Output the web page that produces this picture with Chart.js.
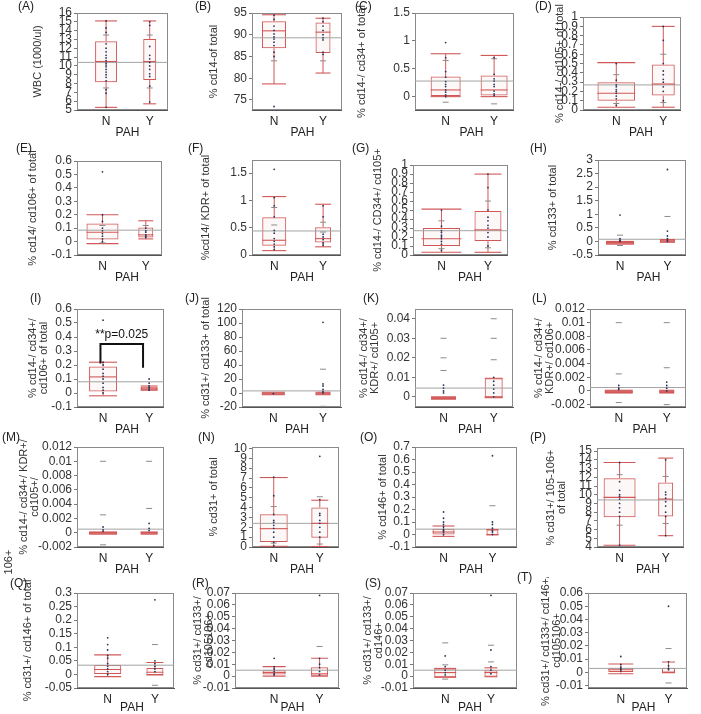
<!DOCTYPE html>
<html>
<head>
<meta charset="utf-8">
<script src="https://cdn.jsdelivr.net/npm/chart.js@4.4.0/dist/chart.umd.min.js"></script>
<style>
  body { margin:0; background:#fff; width:701px; height:714px; position:relative; overflow:hidden;
         font-family:"Liberation Sans", Arial, sans-serif; }
  canvas { position:absolute; }
  .lbl { position:absolute; font-size:12px; line-height:12px; color:#222; white-space:nowrap; }
</style>
</head>
<body>
<script>
// ---- data ----
const groups = ["N", "Y"];
const xTitle = "PAH";
const panels = ["A","B","C","D","E","F","G","H","I","J","K","L","M","N","O","P","Q","R","S","T"];
const yTitles = [
  ["WBC (1000/ul)"], ["% cd14-of total"], ["% cd14-/ cd34+ of total"], ["% cd14-/ cd105+ of total"],
  ["% cd14/ cd106+ of total"], ["%cd14/ KDR+ of total"], ["% cd14-/ CD34+/ cd105+"], ["% cd133+ of total"],
  ["% cd14-/ cd34+/", "cd106+ of total"], ["% cd31+/ cd133+ of total"], ["% cd14-/ cd34+/", "KDR+/ cd105+"], ["% cd14-/ cd34+/", "KDR+/ cd106+"],
  ["% cd14-/ cd34+/ KDR+/", "cd105+/"], ["% cd31+ of total"], ["% cd146+ of total"], ["% cd31+/ 105-106+", "of total"],
  ["% cd31+/ cd146+ of total"], ["% cd31+/ cd133+/", "cd105106+"], ["% cd31+/ cd133+/", "cd146+"], ["% cd31+/ cd133+/ cd146+/", "cd105106+"]
];
const yMin  = [5, 72.7, -0.24, 0, -0.1, 0, 0, -0.5, -0.1, -20, -0.0052, -0.00235, -0.002, 0, -0.1, 4, -0.05, -0.01, -0.01, -0.0118];
const yMax  = [16, 95, 1.5, 1, 0.6, 1.74, 1, 3, 0.6, 120, 0.045, 0.012, 0.012, 10.15, 0.7, 15.35, 0.3, 0.07, 0.07, 0.06];
const yStep = [1, 5, 0.5, 0.1, 0.1, 0.5, 0.1, 0.5, 0.1, 20, 0.01, 0.002, 0.002, 1, 0.1, 1, 0.05, 0.01, 0.01, 0.01];

// box stats: [low whisker, q1, median, q3, high whisker]
const boxN = [
  [5.3, 8.15, 10.5, 12.8, 15.1], [78.7, 86.9, 90.9, 93.1, 94.6], [0, 0.01, 0.12, 0.36, 0.77], [0.03, 0.1, 0.18, 0.3, 0.51],
  [-0.015, 0.016, 0.07, 0.135, 0.2], [0.08, 0.17, 0.27, 0.69, 1.07], [0.03, 0.1, 0.18, 0.3, 0.51], [-0.1, -0.1, -0.03, 0, 0],
  [-0.02, 0.01, 0.115, 0.19, 0.22], [-2.5, -2.5, -1, 1, 1], [-0.0012, -0.0012, -0.0005, 0, 0], [-0.0003, -0.0003, -0.0001, 0.0001, 0.0001],
  [-0.0002, -0.0002, 0, 0.0001, 0.0001], [0.07, 0.5, 1.86, 3.32, 7.05], [-0.015, 0, 0.02, 0.047, 0.068], [4.2, 7.4, 9.7, 11.9, 13.7],
  [-0.008, 0.002, 0.018, 0.035, 0.072], [0, 0.0013, 0.003, 0.005, 0.008], [-0.001, -0.001, 0.003, 0.0065, 0.0065], [-0.001, 0, 0.002, 0.0035, 0.0063]
];
const boxY = [
  [5.7, 8.4, 10.5, 13.05, 15.1], [81.2, 85.8, 90.6, 92.8, 93.8], [0, 0.02, 0.12, 0.38, 0.74], [0.03, 0.155, 0.28, 0.49, 0.9],
  [0.02, 0.03, 0.05, 0.105, 0.155], [0.15, 0.23, 0.3, 0.51, 0.93], [0.03, 0.155, 0.28, 0.49, 0.9], [-0.03, -0.03, 0.02, 0.07, 0.07],
  [0.02, 0.02, 0.03, 0.045, 0.05], [-2.5, -2.5, -1, 1, 1], [-0.0005, -0.0005, 0, 0.0095, 0.0095], [-0.0003, -0.0003, -0.0001, 0.0001, 0.0001],
  [-0.0002, -0.0002, 0, 0.0001, 0.0001], [0.05, 0.95, 2.4, 4.0, 4.75], [-0.003, -0.003, 0, 0.04, 0.04], [5.3, 7.5, 9.5, 11.4, 14.2],
  [-0.002, -0.002, 0.008, 0.024, 0.044], [0, 0, 0.002, 0.0075, 0.015], [-0.0005, -0.0005, 0.003, 0.005, 0.007], [-0.0002, -0.0002, 0, 0.0035, 0.0078]
];
const means = [10.4, 89.3, 0.28, 0.27, 0.085, 0.44, 0.27, 0.08, 0.08, 3, 0.0045, 0.0005, 0.0005, 2.4, 0.043, 9.4, 0.034, 0.005, 0.005, 0.003];

// individual observations (dots) and the short grey dash marks
const dotsN = [
  [15.1, 14.3, 13.8, 12.5, 12, 11.6, 11.2, 10.9, 10.6, 10.3, 10.1, 9.9, 9.6, 9.3, 9, 8.7, 8.3, 7.3, 6.9, 5.3],
  [94.5, 93.5, 92, 91, 90.2, 89.5, 89, 88.3, 87.5, 86, 85, 73.5],
  [0.97, 0.7, 0.45, 0.35, 0.27, 0.22, 0.18, 0.12, 0.08, 0.03, 0],
  [0.5, 0.32, 0.27, 0.25, 0.22, 0.2, 0.18, 0.15, 0.12, 0.05],
  [0.52, 0.2, 0.15, 0.1, 0.08, 0.06, 0.04, 0.02, 0],
  [1.57, 1.05, 0.9, 0.7, 0.45, 0.4, 0.3, 0.25, 0.2, 0.15, 0.1],
  [0.5, 0.32, 0.27, 0.25, 0.22, 0.2, 0.18, 0.15, 0.12, 0.05],
  [0.97, 0.1, 0.05, 0.02, 0],
  [0.52, 0.22, 0.2, 0.17, 0.14, 0.12, 0.1, 0.07, 0.04, 0.02, 0],
  [-1],
  [0.006, 0.0045, 0.003, 0.002],
  [0.0008, 0.0004, 0.0002],
  [0.0008, 0.0004, 0.0002],
  [7.1, 5.2, 3.3, 2.7, 2.5, 2.2, 1.9, 1.5, 1.0, 0.5, 0.1],
  [0.18, 0.13, 0.1, 0.08, 0.06, 0.04, 0.03, 0.02, 0],
  [13.7, 11.5, 10.5, 10, 9.8, 9.5, 9, 8.5, 8, 7.5, 4.2],
  [0.135, 0.11, 0.09, 0.07, 0.06, 0.04, 0.03, 0.02, 0.01, 0],
  [0.015, 0.008, 0.006, 0.004, 0.002, 0.001],
  [0.017, 0.008, 0.005, 0.003, 0.001],
  [0.012, 0.006, 0.004, 0.003, 0.002, 0.001]
];
const dotsY = [
  [15, 14.6, 12.2, 11.2, 10.8, 10.4, 10, 9.6, 9.1, 8.8, 7.7, 5.9],
  [93.8, 93, 92, 91, 90, 89.3, 88.8, 86, 85.5],
  [0.7, 0.4, 0.32, 0.28, 0.22, 0.18, 0.1, 0.05, 0.02],
  [0.9, 0.75, 0.5, 0.42, 0.38, 0.33, 0.3, 0.25, 0.2, 0.1],
  [0.1, 0.08, 0.07, 0.05, 0.04, 0.03],
  [0.9, 0.7, 0.38, 0.33, 0.28, 0.22, 0.18],
  [0.9, 0.75, 0.5, 0.42, 0.38, 0.33, 0.3, 0.25, 0.2, 0.1],
  [2.65, 0.38, 0.2, 0.1, 0.05, 0],
  [0.1, 0.07, 0.05, 0.04, 0.03, 0.02],
  [101, 13, 10, 5, 2, 0],
  [0.01, 0.008, 0.006, 0.004, 0.002, 0],
  [0.0013, 0.0008, 0.0004, 0],
  [0.0013, 0.0006, 0.0003],
  [9.2, 4.8, 3.4, 3.2, 2.7, 2.4, 2.0, 1.5, 1.0],
  [0.63, 0.1, 0.08, 0.05, 0.03, 0.02, 0],
  [14, 10.3, 10, 9.6, 9.2, 8.7, 8, 7.5, 5.3],
  [0.275, 0.05, 0.04, 0.03, 0.02, 0.01],
  [0.068, 0.015, 0.01, 0.007, 0.004, 0.001],
  [0.068, 0.022, 0.008, 0.005, 0.002],
  [0.05, 0.008, 0.005, 0.003, 0.002]
];
const dashN = [
  [13.5, 7.5], [84], [0.65, -0.1], [0.38, 0.07], [0.12, -0.01], [0.87, 0.55], [0.38, 0.07], [0.23, -0.15],
  [], [], [0.03, 0.02, 0.0135, -0.005], [0.01, 0.0025, -0.0017], [0.01, 0.0025, -0.0017], [4.1, 0.4], [], [12.3, 6.5],
  [], [], [0.028, 0.0095, -0.0025], []
];
const dashY = [
  [13.5, 7.5], [84], [0.68, -0.13], [0.6, 0.08], [0.12], [0.6, 0.42], [0.6, 0.08], [0.92, -0.5],
  [], [34, -19], [0.04, 0.03, 0.019, -0.005], [0.01, 0.0034, -0.002], [0.01, 0.0034, -0.002], [5.1, 0.3], [0.23, -0.1], [12.1, 6.7],
  [0.11, -0.04], [0.025, -0.01], [0.026, 0.012, -0.01], [0.018, -0.008]
];
// significance bracket in panel I: left foot, top, right foot
const bracketI = [0.21, 0.35, 0.18];
const pText = "**p=0.025";
const pTextY = 0.42;

// ---- layout (page pixels) ----
const rowTop = [13, 160, 308.5, 447, 592.5];
const rowBot = [110, 255, 406.5, 547, 687.5];
const plotL = [77, 252, 415, 583, 77, 252, 413, 598, 77, 242, 415, 590, 77, 252, 415, 597, 77, 235, 413, 588];
const plotR = [178, 353, 528, 699, 177, 352, 527, 699, 177, 352, 525, 699, 177, 352, 527, 699, 187, 350, 527, 699];
const titleX = [37, 213, 361, 559, 32, 205, 377, 552, 32, 205, 363, 538, 23, 213, 382, 550, 27, 197, 367, 545];
const labelXY = [[18,6],[195,6],[355,6],[535,6],[16,148],[188,148],[352,148],[530,148],
                 [30,298],[185,298],[363,298],[532,298],[2,437],[198,437],[360,437],[530,437],
                 [10,583],[192,583],[365,583],[517,577]];
const xPos = [[.32,.8],[.245,.79],[.31,.8],[.34,.82],[.3,.81],[.25,.8],[.3,.79],[.25,.79],
              [.3,.83],[.315,.815],[.29,.8],[.3,.8],[.3,.83],[.25,.78],[.28,.76],[.26,.79],
              [.315,.8],[.375,.81],[.31,.75],[.33,.81]];
const boxW = [[22,13],[24,15],[30,27],[38,23],[32,15],[24,16],[40,27],[28,15],
              [28,17],[23,15],[25,18],[28,15],[28,17],[28,17],[22,12],[32,15],
              [27,17],[23,17],[22,13],[25,13]];
const PAD_TOP = 16;

Chart.defaults.font.family = "'Liberation Sans', Arial, sans-serif";
Chart.defaults.color = "#222";

const RED = "#d25858";
const fmt = v => String(+(+v).toFixed(6));

const framePlugin = {
  id: "frame",
  beforeDatasetsDraw(c) {
    const a = c.chartArea, ctx = c.ctx;
    ctx.save();
    ctx.strokeStyle = "#8a8a8a";
    ctx.lineWidth = 1;
    ctx.strokeRect(Math.round(a.left) + 0.5, Math.round(a.top) + 0.5,
                   Math.round(a.right - a.left) - 1, Math.round(a.bottom - a.top) - 1);
    ctx.restore();
  }
};
const notePlugin = {
  id: "note",
  afterDatasetsDraw(c, args, o) {
    if (!o || !o.text) return;
    const ctx = c.ctx;
    ctx.save();
    ctx.font = "12px 'Liberation Sans', Arial, sans-serif";
    ctx.fillStyle = "#111";
    ctx.textAlign = "center";
    ctx.textBaseline = "middle";
    ctx.fillText(o.text, c.scales.x.getPixelForValue(o.x), c.scales.y.getPixelForValue(o.y));
    ctx.restore();
  }
};

function addLabel(text, x, y) {
  const d = document.createElement("div");
  d.className = "lbl";
  d.textContent = text;
  d.style.left = x + "px";
  d.style.top = (y - 6) + "px";
  document.body.appendChild(d);
  return d;
}

panels.forEach((id, i) => {
  const row = Math.floor(i / 4);
  const cl = Math.round(titleX[i] - 5.5);
  const ct = Math.round(rowTop[row] - PAD_TOP);
  const cw = Math.round(plotR[i] + 2 - cl);
  const ch = Math.round(rowBot[row] + 30 - ct);
  const yW = plotL[i] - cl;

  const cv = document.createElement("canvas");
  cv.width = cw; cv.height = ch;
  cv.style.left = cl + "px"; cv.style.top = ct + "px";
  document.body.appendChild(cv);
  addLabel("(" + id + ")", labelXY[i][0], labelXY[i][1]);
  const xt = addLabel(xTitle, (plotL[i] + plotR[i]) / 2, Math.min(rowBot[row] + 22, 707));
  xt.style.transform = "translateX(-50%)";

  const [xn, xy] = xPos[i];
  const [wn, wy] = boxW[i];
  const bn = boxN[i], by = boxY[i];

  const dots = dotsN[i].map(v => ({ x: xn, y: v })).concat(dotsY[i].map(v => ({ x: xy, y: v })));
  const dashes = dashN[i].map(v => ({ x: xn, y: v })).concat(dashY[i].map(v => ({ x: xy, y: v })));
  const caps = [bn[0], bn[4], bn[2]].map(v => ({ x: xn, y: v }))
    .concat([by[0], by[4], by[2]].map(v => ({ x: xy, y: v })));
  const capR = [wn / 2, wn / 2, wn / 2, wy / 2, wy / 2, wy / 2];
  const whisk = [
    { x: xn, y: bn[0] }, { x: xn, y: bn[1] }, { x: xn, y: null }, { x: xn, y: bn[3] }, { x: xn, y: bn[4] },
    { x: xy, y: null },
    { x: xy, y: by[0] }, { x: xy, y: by[1] }, { x: xy, y: null }, { x: xy, y: by[3] }, { x: xy, y: by[4] }
  ];

  const datasets = [
    { type: "scatter", data: dots, pointRadius: 0.9, pointBackgroundColor: "#2a3558",
      pointBorderWidth: 0, order: 0 },
    { type: "scatter", data: dashes, pointStyle: "line", pointRadius: 3, pointBorderColor: "#8a8a8a",
      pointBorderWidth: 1, order: 1 },
    { type: "scatter", data: caps, pointStyle: "line", pointRadius: capR, pointBorderColor: RED,
      pointBorderWidth: 1.1, order: 2 },
    { type: "line", data: [{ x: 0, y: means[i] }, { x: 1, y: means[i] }], borderColor: "#a3a3a3",
      borderWidth: 1, pointRadius: 0, order: 3 },
    { type: "bar", data: [{ x: xn, y: [bn[1], bn[3]] }], maxBarThickness: wn, barPercentage: 1,
      grouped: false, borderSkipped: false, borderColor: RED, borderWidth: 1,
      backgroundColor: "rgba(225,120,120,0.05)", order: 4 },
    { type: "bar", data: [{ x: xy, y: [by[1], by[3]] }], maxBarThickness: wy, barPercentage: 1,
      grouped: false, borderSkipped: false, borderColor: RED, borderWidth: 1,
      backgroundColor: "rgba(225,120,120,0.05)", order: 4 },
    { type: "line", data: whisk, borderColor: RED, borderWidth: 1, pointRadius: 0, spanGaps: false, order: 5 }
  ];

  let note = {};
  if (id === "I") {
    const bl = xn - 0.03, br = xy - 0.07;
    datasets.push({ type: "line", data: [{ x: bl, y: bracketI[0] }, { x: bl, y: bracketI[1] },
      { x: br, y: bracketI[1] }, { x: br, y: bracketI[2] }], borderColor: "#111", borderWidth: 2,
      pointRadius: 0, order: 0 });
    note = { text: pText, x: (bl + br) / 2, y: pTextY };
  }

  new Chart(cv, {
    type: "bar",
    data: { datasets },
    plugins: [framePlugin, notePlugin],
    options: {
      responsive: false,
      animation: false,
      events: [],
      layout: { padding: { top: PAD_TOP, right: 2, left: 0, bottom: 0 } },
      plugins: { legend: { display: false }, tooltip: { enabled: false }, note },
      scales: {
        x: {
          type: "linear", min: 0, max: 1, offset: false,
          afterBuildTicks: s => { s.ticks = [{ value: xn }, { value: xy }]; },
          afterFit: s => { s.height = 30; },
          grid: { display: false, drawTicks: false, tickLength: 0 },
          border: { color: "#555" },
          ticks: { autoSkip: false, maxRotation: 0, padding: 4, color: "#222", font: { size: 12 },
                   callback: (v, k) => groups[k] }
        },
        y: {
          min: yMin[i], max: yMax[i],
          afterFit: s => { s.width = yW; },
          grid: { drawOnChartArea: false, drawTicks: true, tickLength: 3, color: "#777" },
          border: { color: "#555" },
          ticks: { stepSize: yStep[i], includeBounds: false, autoSkip: false, padding: 2, color: "#333",
                   font: { size: 12 }, callback: v => fmt(v) },
          title: { display: true, text: yTitles[i], color: "#333", font: { size: 11, lineHeight: 1 }, padding: 0 }
        }
      }
    }
  });
});

// stray end of panel M's axis title
const extra = addLabel("106+", -4, 562);
extra.style.fontSize = "11px";
extra.style.transform = "rotate(-90deg)";
extra.style.color = "#333";
</script>
</body>
</html>
